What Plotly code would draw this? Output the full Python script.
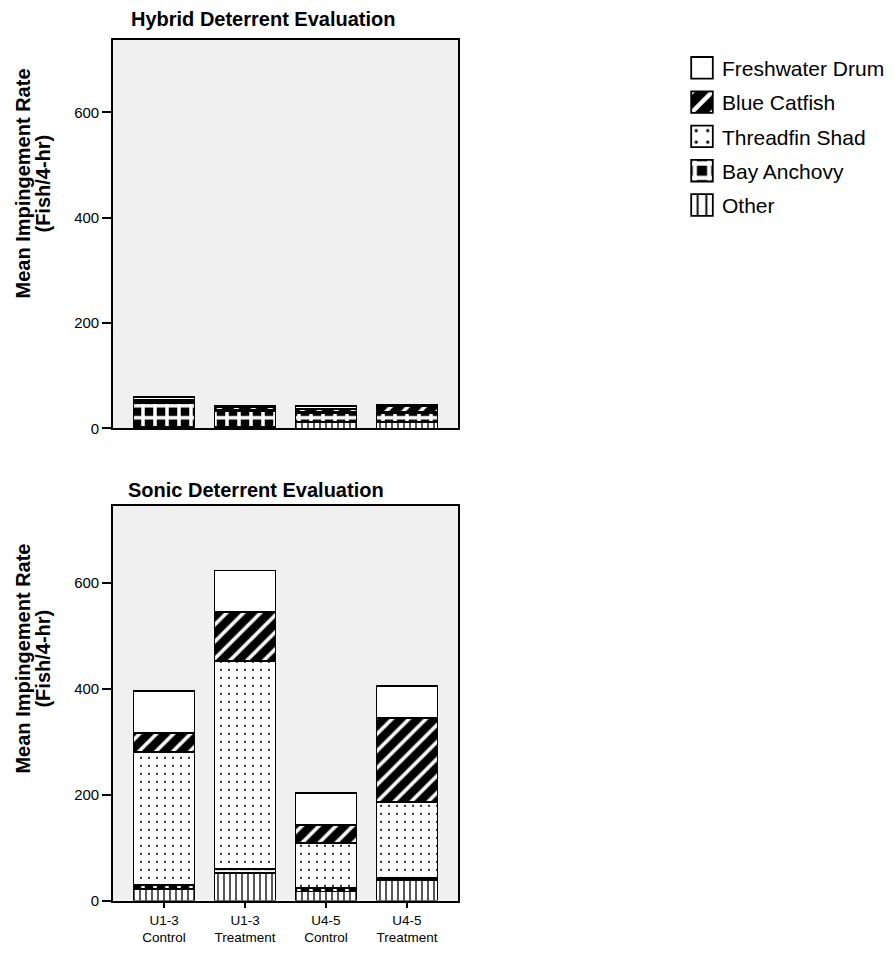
import plotly.graph_objects as go

categories = ["U1-3<br>Control", "U1-3<br>Treatment", "U4-5<br>Control", "U4-5<br>Treatment"]
series_names = ["Other", "Bay Anchovy", "Threadfin Shad", "Blue Catfish", "Freshwater Drum"]
legend_ranks = [5, 4, 3, 2, 1]

# Hybrid Deterrent Evaluation (stack order bottom -> top)
hybrid_other = [3, 3, 12, 12]
hybrid_anchovy = [46, 30, 17, 17]
hybrid_shad = [2, 3, 3, 2]
hybrid_catfish = [3, 4, 5, 11]
hybrid_drum = [6, 2, 5, 2]

# Sonic Deterrent Evaluation
sonic_other = [22, 52, 17, 38]
sonic_anchovy = [8, 7, 6, 4]
sonic_shad = [250, 393, 85, 144]
sonic_catfish = [36, 93, 35, 158]
sonic_drum = [79, 78, 60, 61]

y_ticks = [0, 200, 400, 600]

FONT = "Liberation Sans, Arial, sans-serif"

patterns = {
    "Other": dict(shape="|", fgcolor="black", bgcolor="white", size=6, solidity=0.22, fillmode="replace"),
    "Bay Anchovy": dict(shape="+", fgcolor="white", bgcolor="black", size=12, solidity=0.5, fillmode="replace"),
    "Threadfin Shad": dict(shape=".", fgcolor="black", bgcolor="white", size=8, solidity=0.06, fillmode="replace"),
    "Blue Catfish": dict(shape="/", fgcolor="white", bgcolor="black", size=12, solidity=0.3, fillmode="replace"),
    "Freshwater Drum": dict(shape="", fgcolor="black", bgcolor="white", size=8, solidity=0.1, fillmode="replace"),
}

hybrid = [hybrid_other, hybrid_anchovy, hybrid_shad, hybrid_catfish, hybrid_drum]
sonic = [sonic_other, sonic_anchovy, sonic_shad, sonic_catfish, sonic_drum]

fig = go.Figure()
for name, rank, vals in zip(series_names, legend_ranks, hybrid):
    fig.add_trace(go.Bar(
        x=categories, y=vals, name=name, legendgroup=name, legendrank=rank, showlegend=True,
        marker=dict(color="white", pattern=patterns[name], line=dict(color="black", width=1.8)),
        xaxis="x", yaxis="y",
    ))
for name, rank, vals in zip(series_names, legend_ranks, sonic):
    fig.add_trace(go.Bar(
        x=categories, y=vals, name=name, legendgroup=name, legendrank=rank, showlegend=False,
        marker=dict(color="white", pattern=patterns[name], line=dict(color="black", width=1.8)),
        xaxis="x2", yaxis="y2",
    ))

W, H = 895, 962
xl, xr = 105, 450
top_t, top_b = 32, 424
bot_t, bot_b = 502, 900
xrange = [-0.63, 3.63]

axis_common = dict(showline=True, linecolor="black", linewidth=1.6, mirror=True,
                   showgrid=False, zeroline=False)

fig.update_layout(
    width=W, height=H,
    margin=dict(l=0, r=0, t=0, b=0),
    paper_bgcolor="white", plot_bgcolor="#f0f0f0",
    barmode="stack", bargap=0.245,
    font=dict(family=FONT, color="black", size=15),
    xaxis=dict(domain=[xl / W, xr / W], anchor="y", range=xrange, showticklabels=False,
               ticks="", **axis_common),
    yaxis=dict(domain=[1 - top_b / H, 1 - top_t / H], anchor="x", range=[0, 738],
               tickvals=y_ticks, ticks="outside", ticklen=9, tickwidth=1.6, tickcolor="black",
               tickfont=dict(size=15, family=FONT), **axis_common),
    xaxis2=dict(domain=[xl / W, xr / W], anchor="y2", range=xrange, ticks="outside",
                ticklen=6, tickwidth=1.6, tickcolor="black",
                tickfont=dict(size=13.5, family=FONT), **axis_common),
    yaxis2=dict(domain=[1 - bot_b / H, 1 - bot_t / H], anchor="x2", range=[0, 745],
                tickvals=y_ticks, ticks="outside", ticklen=9, tickwidth=1.6, tickcolor="black",
                tickfont=dict(size=15, family=FONT), **axis_common),
    legend=dict(x=674 / W, y=1 - 40 / H, xanchor="left", yanchor="top",
                traceorder="grouped", tracegroupgap=4,
                font=dict(size=21, family=FONT),
                bgcolor="rgba(0,0,0,0)"),
    showlegend=True,
)

annotations = [
    dict(text="<b>Hybrid Deterrent Evaluation</b>", x=256 / W, y=1 - 11 / H,
         xref="paper", yref="paper", showarrow=False, font=dict(size=20, family=FONT),
         xanchor="center", yanchor="middle"),
    dict(text="<b>Sonic Deterrent Evaluation</b>", x=248 / W, y=1 - 486 / H,
         xref="paper", yref="paper", showarrow=False, font=dict(size=20, family=FONT),
         xanchor="center", yanchor="middle"),
]
for cy in (177, 656):
    annotations.append(dict(text="<b>Mean Impingement Rate</b>", x=15 / W, y=1 - cy / H,
                            xref="paper", yref="paper", showarrow=False, textangle=-90,
                            font=dict(size=20, family=FONT), xanchor="center", yanchor="middle"))
    annotations.append(dict(text="<b>(Fish/4-hr)</b>", x=35 / W, y=1 - cy / H,
                            xref="paper", yref="paper", showarrow=False, textangle=-90,
                            font=dict(size=20, family=FONT), xanchor="center", yanchor="middle"))
fig.update_layout(annotations=annotations)

post_js = """
var gd = document.getElementsByClassName('plotly-graph-div')[0];
function enlargeLegend(){
  gd.querySelectorAll('.legendpoints path').forEach(function(p){
    var base = p.getAttribute('data-base-t');
    if (base === null) {
      base = p.getAttribute('transform') || '';
      p.setAttribute('data-base-t', base);
    }
    p.setAttribute('transform', base + ' scale(1.8)');
    p.style.vectorEffect = 'non-scaling-stroke';
  });
}
enlargeLegend();
if (gd.on) { gd.on('plotly_afterplot', enlargeLegend); }
"""

fig.write_html("out.html", post_script=post_js)
